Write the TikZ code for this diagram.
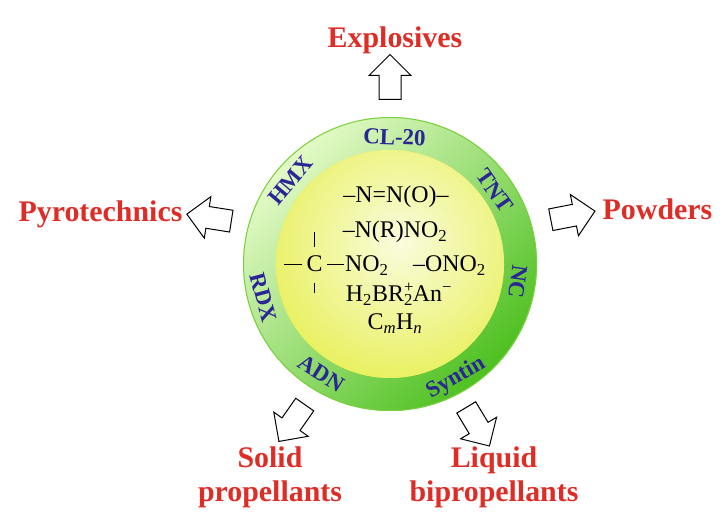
\documentclass[tikz,border=0pt]{standalone}
\usepackage{fontspec}
\setmainfont{Liberation Serif}
\usetikzlibrary{shapes.arrows}
\definecolor{usered}{RGB}{222,45,38}
\definecolor{ringblue}{RGB}{42,38,150}
\definecolor{palegreen}{RGB}{228,250,200}
\definecolor{midgreen}{RGB}{140,220,90}
\definecolor{deepgreen}{RGB}{78,192,32}
\definecolor{rimgreen}{RGB}{120,208,60}
\definecolor{coreyellow}{RGB}{225,235,40}
\definecolor{corepale}{RGB}{250,252,222}
\tikzset{>=latex,
  usage/.style={text=usered, font=\fontsize{30}{35}\selectfont\bfseries, align=center, inner sep=0pt},
  ringlabel/.style={text=ringblue, font=\fontsize{23}{26}\selectfont\bfseries, inner sep=0pt},
  formula/.style={font=\fontsize{24}{28}\selectfont, inner sep=0pt},
  bond/.style={line width=1.1bp},
  bigarrow/.style={single arrow, draw=black, fill=white, line width=1bp,
    minimum height=45bp, inner xsep=0pt, inner ysep=10.5bp, single arrow head extend=10bp}
}
\begin{document}
\begin{tikzpicture}[x=1bp,y=1bp]
  \useasboundingbox (0,0) rectangle (727,531);
  \coordinate (ctr) at (390,267);
  % ring and core
  \shade[top color=palegreen, middle color=midgreen, bottom color=deepgreen, shading angle=45] (ctr) circle (147);
  \draw[rimgreen, line width=1bp] (ctr) circle (146.5);
  \fill[coreyellow] (ctr) circle (114);
  \begin{scope}
    \clip (ctr) circle (114);
    \shade[inner color=corepale, outer color=coreyellow] ([shift={(10,22)}]ctr) circle (200);
  \end{scope}
  % labels on the ring
  \foreach \ang/\rad/\nm/\txt in {88/127/cl/CL-20, 35/128/tnt/TNT, -8/129/nc/NC, 140/130/hmx/HMX}
    \node[ringlabel, rotate=\ang-90] (\nm) at ([shift={(\ang:\rad)}]ctr) {\txt};
  \foreach \ang/\rad/\nm/\txt in {-60/132/syn/Syntin, -122/129/adn/ADN, 195/131/rdx/RDX}
    \node[ringlabel, rotate=\ang+90] (\nm) at ([shift={(\ang:\rad)}]ctr) {\txt};
  % groups in the core
  \node[formula, anchor=base] (azoxy) at (396,328) {–N=N(O)–};
  \node[formula, anchor=base] (nitramine) at (395,293) {–N(R)NO\textsubscript{2}};
  \node[formula, anchor=base] (carb) at (314.5,259) {C};
  \node[formula, anchor=base west] (cnitro) at (345,259) {NO\textsubscript{2}};
  \node[formula, anchor=base west] (nitrate) at (413,259) {–ONO\textsubscript{2}};
  \node[formula, anchor=base] (boron) at (399,229) {H\textsubscript{2}BR\rlap{\textsuperscript{+}}\textsubscript{2}An\textsuperscript{−}};
  \node[formula, anchor=base] (hydro) at (395,201) {C\textsubscript{\textit{m}}H\textsubscript{\textit{n}}};
  \draw[bond] ([xshift=-4]carb.west) -- ++(-18,0);
  \draw[bond] ([xshift=4]carb.east) -- ++(17,0);
  \draw[bond] ([yshift=9]carb.north) -- ++(0,15);
  \draw[bond] ([yshift=-11]carb.south) -- ++(0,-10);
  % arrows and uses
  \node[bigarrow, rotate=90] (toexpl) at (390,448.5) {};
  \node[bigarrow, rotate=11] (topowd) at (567.5,314.5) {};
  \node[bigarrow, rotate=171] (topyro) at (214.5,312.5) {};
  \node[bigarrow, rotate=-125] (tosolid) at (295,112.5) {};
  \node[bigarrow, rotate=-59] (toliquid) at (475,109) {};
  \node[usage, anchor=base] (expl) at (395,483) {Explosives};
  \node[usage, anchor=base] (pyro) at (100.5,309) {Pyrotechnics};
  \node[usage, anchor=base] (powd) at (657.5,311) {Powders};
  \node[usage, anchor=base] (solid) at (270,29) {Solid\\propellants};
  \node[usage, anchor=base] (liquid) at (494,29) {Liquid\\bipropellants};
\end{tikzpicture}
\end{document}
